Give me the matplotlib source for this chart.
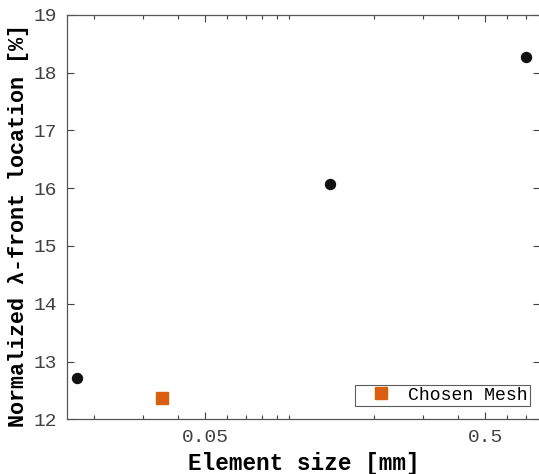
import matplotlib
matplotlib.use("Agg")
import matplotlib.pyplot as plt
from matplotlib.ticker import FixedLocator, NullFormatter

# mesh study data
elem_size = [0.0175, 0.14, 0.70]
front_loc = [12.71, 16.07, 18.27]
chosen_size = [0.035]
chosen_loc = [12.365]

x_major = [0.05, 0.5]
x_minor = [0.02, 0.03, 0.04, 0.06, 0.07, 0.08, 0.09, 0.1, 0.2, 0.3, 0.4, 0.6, 0.7, 0.8]
y_ticks = [12, 13, 14, 15, 16, 17, 18, 19]

plt.rcParams['font.family'] = ['Liberation Mono', 'DejaVu Sans Mono']
axis_col = '#404040'

fig = plt.figure(figsize=(5.39, 4.74), dpi=100)
ax = fig.add_axes([66.7 / 539, (474 - 419.3) / 474, (540 - 66.7) / 539, (419.3 - 14.7) / 474])

ax.plot(elem_size, front_loc, 'o', color='#111111', markersize=7.2, linestyle='none')
ax.plot(chosen_size, chosen_loc, 's', color='#D95F0E', markersize=8.2,
        linestyle='none', label='Chosen Mesh')

ax.set_xscale('log')
ax.set_xlim(0.01603, 0.785)
ax.set_ylim(12, 19)
ax.xaxis.set_major_locator(FixedLocator(x_major))
ax.set_xticklabels([str(v) for v in x_major])
ax.xaxis.set_minor_locator(FixedLocator(x_minor))
ax.xaxis.set_minor_formatter(NullFormatter())
ax.set_yticks(y_ticks)

ax.tick_params(which='both', direction='in', top=True, right=True,
               color=axis_col, labelcolor='#404040', labelsize=14, width=0.8)
ax.tick_params(which='major', length=5, pad=7)
ax.tick_params(which='minor', length=3)
for s in ax.spines.values():
    s.set_color('#555555')
    s.set_linewidth(0.9)

ax.set_xlabel('Element size [mm]', fontsize=16.3, fontweight='bold', labelpad=4)
ax.set_ylabel('Normalized λ-front location [%]', fontsize=15.7, fontweight='bold')
ax.yaxis.set_label_coords(-0.08, 0.48)

leg = ax.legend(loc='lower right', bbox_to_anchor=(530 / 539, (474 - 406) / 474),
                bbox_transform=fig.transFigure, fontsize=13.1, frameon=True,
                fancybox=False, borderpad=0.12, handletextpad=0.2, handlelength=2.6,
                borderaxespad=0)
leg.get_frame().set_edgecolor('#333333')
leg.get_frame().set_linewidth(0.8)

fig.savefig('out.png', dpi=100)
